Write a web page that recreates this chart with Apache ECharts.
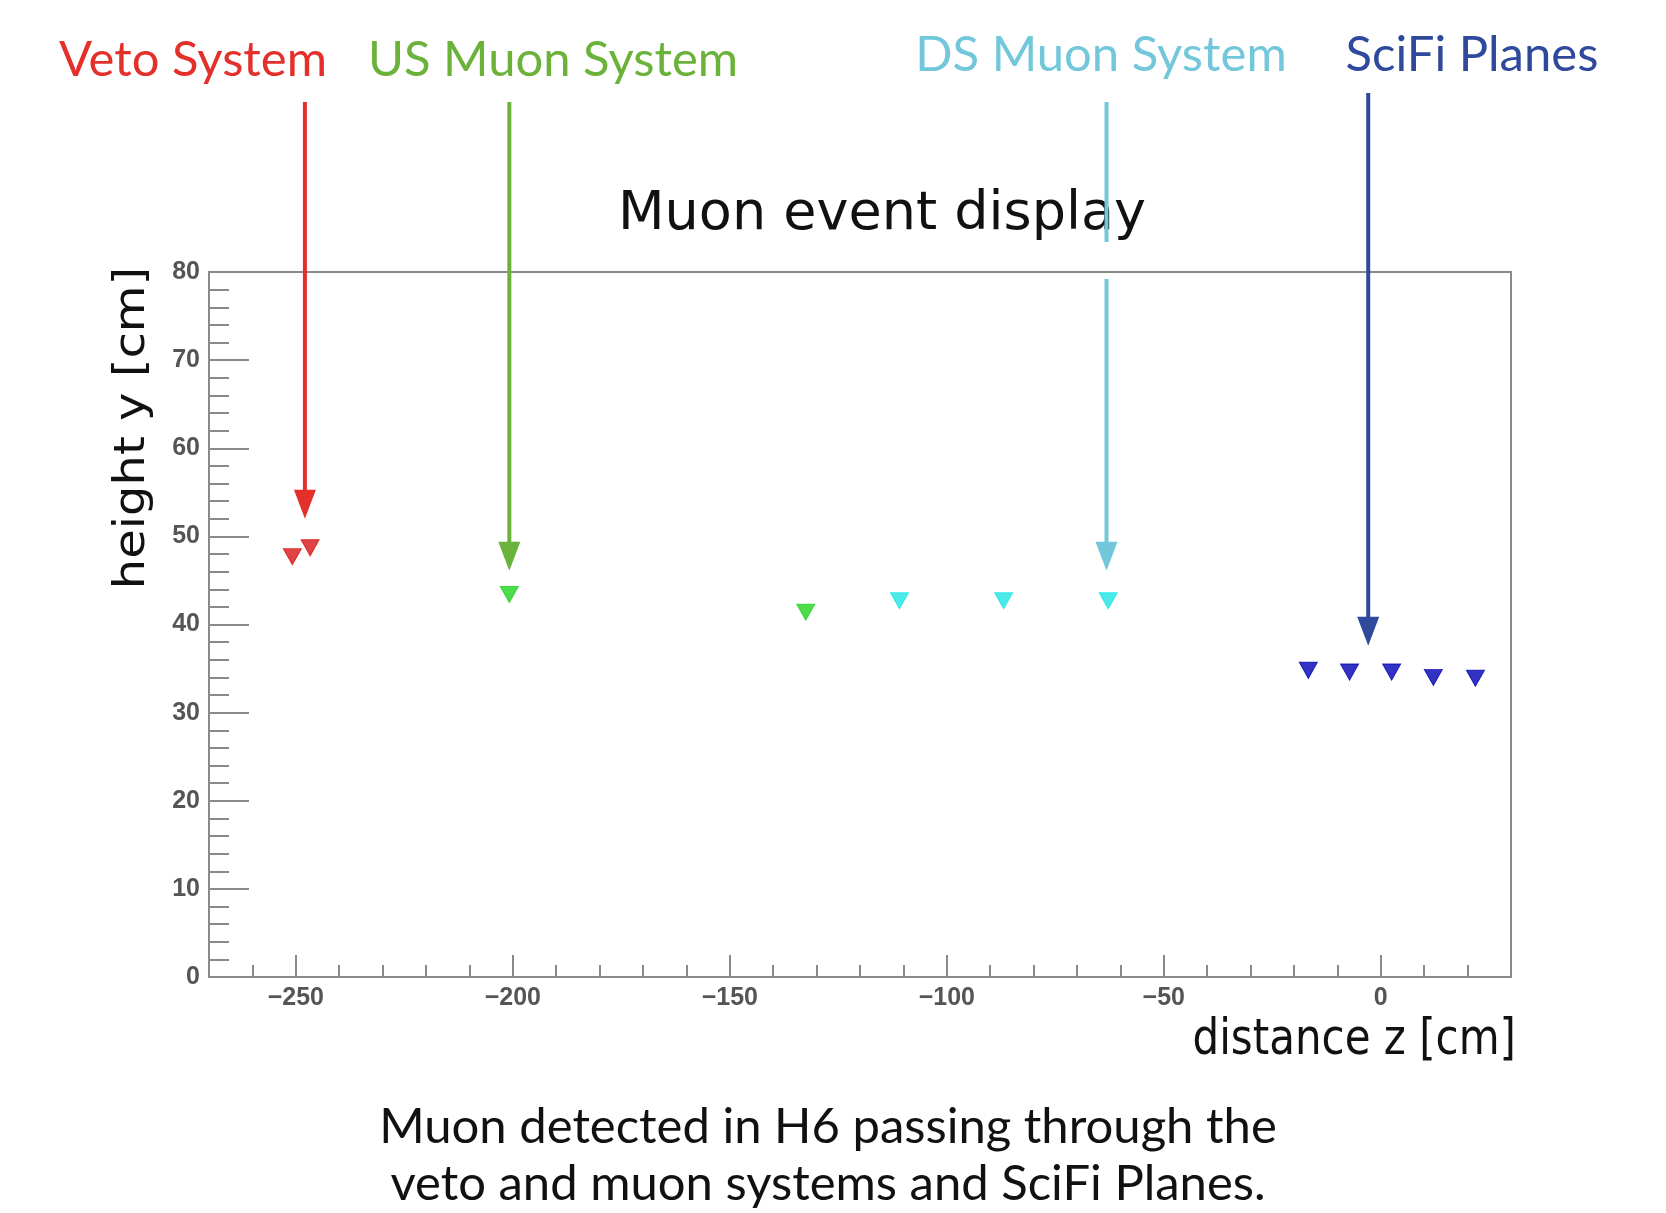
<!DOCTYPE html>
<html>
<head>
<meta charset="utf-8">
<script src="https://cdn.jsdelivr.net/npm/echarts@6/dist/echarts.min.js"></script>
<style>
html,body{margin:0;padding:0;background:#fff;}
#chart{width:1666px;height:1213px;}
</style>
</head>
<body>
<div id="chart"></div>
<script>
// ---- data (z in cm, y in cm) ----
const vetoZ = [-250.8, -246.7];
const vetoY = [47.7, 48.7];
const usZ = [-200.8, -132.5];
const usY = [43.4, 41.4];
const dsZ = [-110.9, -86.9, -62.8];
const dsY = [42.7, 42.7, 42.7];
const sciZ = [-16.7, -7.2, 2.5, 12.1, 21.8];
const sciY = [34.8, 34.6, 34.6, 34.0, 33.9];

const xMajorTicks = [-250, -200, -150, -100, -50, 0];
const yTicks = [0, 10, 20, 30, 40, 50, 60, 70, 80];

// annotation arrows (names, arrow z position, arrow tip height, arrow start height)
const annNames = ['Veto System', 'US Muon System', 'DS Muon System', 'SciFi Planes'];
const annArrowZ = [-247.9, -200.8, -63.2, -2.9];
const annTipY = [52.0, 46.1, 46.1, 37.6];
const annStartY = [99.3, 99.3, 99.3, 100.3];

const chart = echarts.init(document.getElementById('chart'), null, {renderer: 'canvas'});

const axisGray = '#8a8a8a';
const tickLabel = {fontFamily: 'Liberation Sans', fontWeight: 'bold', fontSize: 25, color: '#555'};

function pairs(xs, ys) { return xs.map((x, i) => [x, ys[i]]); }

function scatter(name, xs, ys, color) {
  return {
    name, type: 'scatter', xAxisIndex: 0, yAxisIndex: 0,
    symbol: 'triangle', symbolRotate: 180, symbolSize: [18, 16],
    itemStyle: {color: color, borderColor: color, borderWidth: 1},
    data: pairs(xs, ys), z: 5
  };
}

const option = {
  animation: false,
  backgroundColor: '#ffffff',
  grid: {left: 209, right: 155, top: 272, bottom: 236, show: true,
         borderColor: axisGray, borderWidth: 2, outerBoundsMode: 'none', containLabel: false},
  title: {
    text: 'Muon event display', left: 877, top: 210, textAlign: 'center', textVerticalAlign: 'middle',
    textStyle: {fontFamily: 'DejaVu Sans', fontWeight: 'normal', fontSize: 54, color: '#111'}
  },
  xAxis: [
    {type: 'value', min: -270, max: 30, interval: 10, position: 'bottom',
     axisLine: {show: true, onZero: false, lineStyle: {color: axisGray, width: 2}},
     axisTick: {show: true, inside: true, length: 12, lineStyle: {color: axisGray, width: 2}},
     axisLabel: {show: false}, splitLine: {show: false}},
    {type: 'value', min: -270, max: 30, position: 'bottom',
     axisLine: {show: false, onZero: false},
     axisTick: {show: true, inside: true, length: 22, customValues: xMajorTicks, lineStyle: {color: axisGray, width: 2}},
     axisLabel: Object.assign({show: true, margin: 9, customValues: xMajorTicks,
       formatter: v => (v < 0 ? '\u2212' + Math.abs(v) : String(v))}, tickLabel),
     splitLine: {show: false}}
  ],
  yAxis: {
    type: 'value', min: 0, max: 80, interval: 10,
    axisLine: {show: true, onZero: false, lineStyle: {color: axisGray, width: 2}},
    axisTick: {show: true, inside: true, length: 40, lineStyle: {color: axisGray, width: 2}},
    minorTick: {show: true, splitNumber: 5, length: 20, lineStyle: {color: axisGray, width: 2}},
    axisLabel: Object.assign({margin: 9}, tickLabel),
    splitLine: {show: false}
  },
  series: [
    scatter('Veto', vetoZ, vetoY, '#d81414'),
    scatter('US Muon', usZ, usY, '#1fd41f'),
    scatter('DS Muon', dsZ, dsY, '#1fe3e3'),
    scatter('SciFi', sciZ, sciY, '#0000b4')
  ]
};
chart.setOption(option);

// ---- annotations: texts, arrows, axis names, caption ----
const annColors = ['#e3302a', '#6ab23a', '#72c7db', '#2f4a9c'];
const annTextX = [193, 553, 1101, 1472];
const annTextY = [60, 60, 55, 55];
const annFont = 'Lato';
const g = [];
annNames.forEach((name, i) => {
  g.push({type: 'text', x: annTextX[i], y: annTextY[i], z: 20,
    style: {text: name, fill: annColors[i], font: '49px ' + annFont, textAlign: 'center', textVerticalAlign: 'middle'}});
  const p0 = chart.convertToPixel({gridIndex: 0}, [annArrowZ[i], annStartY[i]]);
  const p1 = chart.convertToPixel({gridIndex: 0}, [annArrowZ[i], annTipY[i]]);
  const headLen = 29, headW = 11;
  const lineEnd = p1[1] - headLen + 4;
  if (i === 2) {
    g.push({type: 'line', z: 10, shape: {x1: p0[0], y1: p0[1], x2: p0[0], y2: 242}, style: {stroke: annColors[i], lineWidth: 4}});
    g.push({type: 'line', z: 10, shape: {x1: p0[0], y1: 279, x2: p0[0], y2: lineEnd}, style: {stroke: annColors[i], lineWidth: 4}});
  } else {
    g.push({type: 'line', z: 10, shape: {x1: p0[0], y1: p0[1], x2: p0[0], y2: lineEnd}, style: {stroke: annColors[i], lineWidth: 4}});
  }
  g.push({type: 'polygon', z: 10, shape: {points: [[p1[0] - headW, p1[1] - headLen], [p1[0] + headW, p1[1] - headLen], [p1[0], p1[1]]]},
    style: {fill: annColors[i]}});
});
// axis titles
g.push({type: 'text', x: 1516, y: 1066, z: 20, scaleX: 0.84,
  style: {text: 'distance z [cm]', fill: '#111', font: '50px DejaVu Sans', textAlign: 'right', textVerticalAlign: 'bottom'}});
g.push({type: 'text', x: 133, y: 428, z: 20, rotation: Math.PI / 2, scaleY: 0.9,
  style: {text: 'height y [cm]', fill: '#111', font: '48px DejaVu Sans', textAlign: 'center', textVerticalAlign: 'middle'}});
// caption
g.push({type: 'text', x: 828, y: 1127, z: 20,
  style: {text: 'Muon detected in H6 passing through the', fill: '#111', font: '49px ' + annFont, textAlign: 'center', textVerticalAlign: 'middle'}});
g.push({type: 'text', x: 828, y: 1184, z: 20,
  style: {text: 'veto and muon systems and SciFi Planes.', fill: '#111', font: '49px ' + annFont, textAlign: 'center', textVerticalAlign: 'middle'}});
chart.setOption({graphic: {elements: g}});
</script>
</body>
</html>
